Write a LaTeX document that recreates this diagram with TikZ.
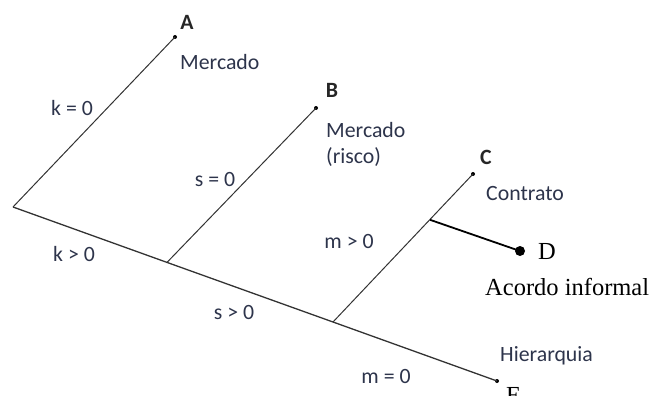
\documentclass[tikz,border=0pt]{standalone}
\usepackage{fontspec}
\setmainfont{Liberation Serif}
\newfontfamily\calfont{Carlito}
\definecolor{txtcol}{RGB}{45,52,75}
\begin{document}
\begin{tikzpicture}[x=1pt,y=-1pt,
  lbl/.style={font=\calfont\fontsize{21.8}{24}\selectfont, text=txtcol, inner sep=0pt},
  blbl/.style={lbl, font=\calfont\bfseries\fontsize{21.8}{24}\selectfont, text=black!85},
  slbl/.style={font=\fontsize{24.5}{28}\selectfont, text=black, inner sep=0pt},
  branch/.style={draw=black!80, line width=1pt},
  dot/.style={circle, fill=black, inner sep=0pt, minimum size=4pt},
  bigdot/.style={circle, fill=black, inner sep=0pt, minimum size=10pt}]
\useasboundingbox (0,0) rectangle (653,396);
\clip (0,0) rectangle (653,396);
% points
\coordinate (root) at (13,207);
\node[dot] (A) at (175,37) {};
\node[dot] (B) at (316,108) {};
\node[dot] (C) at (473,174) {};
\node[dot] (E) at (497,381) {};
\coordinate (bB) at (167,262.4);
\coordinate (bC) at (333,322);
\coordinate (bD) at (430,219.8);
\node[bigdot] (D) at (520,251) {};
% lines
\draw[branch, line width=1.3pt] (root) -- (bB) -- (bC) -- (E.center);
\draw[branch] (root) -- (A.center);
\draw[branch] (bB) -- (B.center);
\draw[branch] (bC) -- (C.center);
\draw[black, line width=1.8pt] (bD) -- (D.center);
% labels
\node[blbl] (tA) at (187,22) {A};
\node[lbl, anchor=west] (mA) at (180,62) {Mercado};
\node[lbl] (k0) at (72,108) {k = 0};
\node[blbl] (tB) at (332,90) {B};
\node[lbl, anchor=west] (mB) at (326,130) {Mercado};
\node[lbl, anchor=west] (rB) at (326,157) {(risco)};
\node[lbl] (s0) at (215,180) {s = 0};
\node[blbl] (tC) at (486,157) {C};
\node[lbl, anchor=west] (cC) at (486,194) {Contrato};
\node[lbl] (mg) at (349,241) {m > 0};
\node[slbl, anchor=west] (tD) at (538,252) {D};
\node[slbl, anchor=west] (aD) at (485,287) {Acordo informal};
\node[lbl] (kg) at (74,254) {k > 0};
\node[lbl] (sg) at (234,313) {s > 0};
\node[lbl, anchor=west] (hE) at (500,356) {Hierarquia};
\node[lbl] (m0) at (386,376) {m = 0};
\node[slbl, anchor=west] (tE) at (506,395) {E};
\end{tikzpicture}
\end{document}
